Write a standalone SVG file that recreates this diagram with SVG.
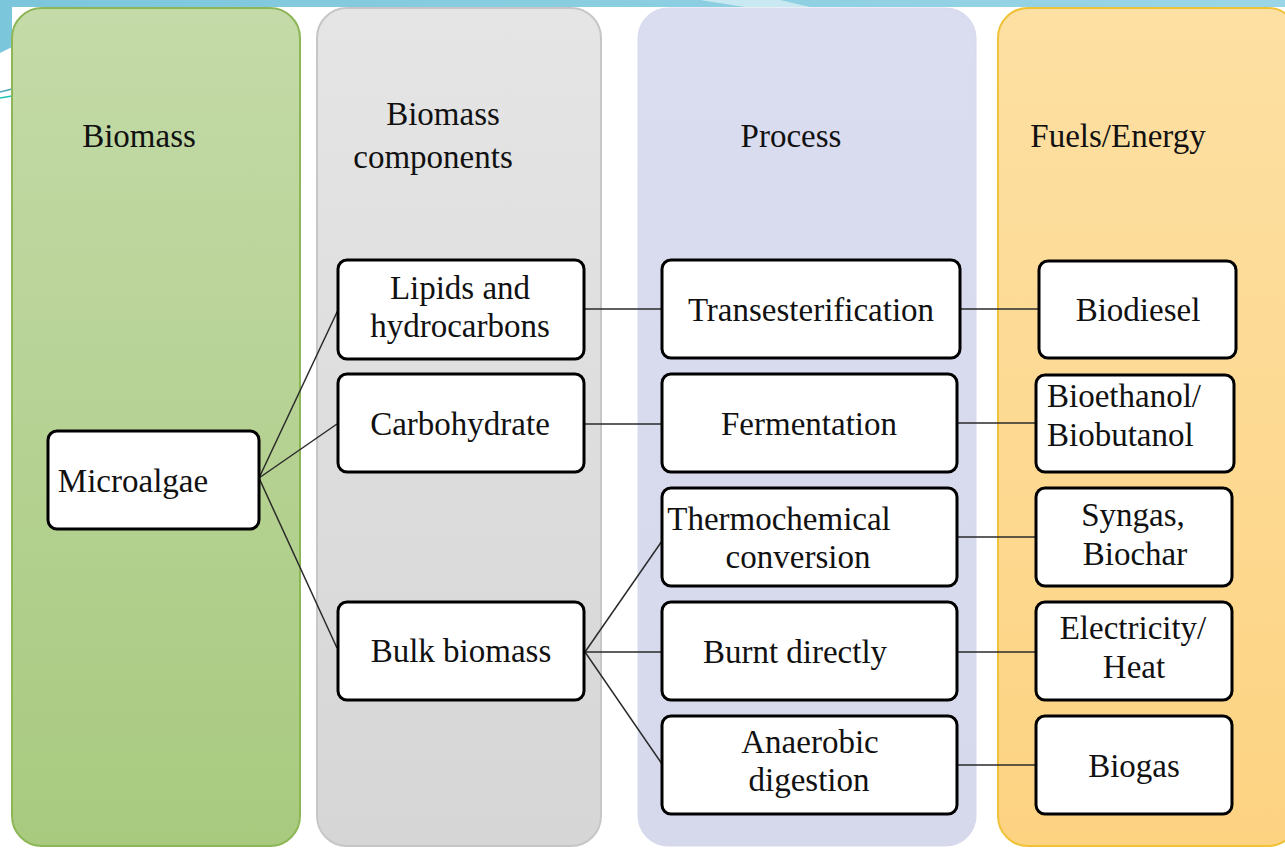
<svg xmlns="http://www.w3.org/2000/svg" width="1285" height="848" viewBox="0 0 1285 848">
<defs>
<linearGradient id="gGreen" x1="0" y1="0" x2="0" y2="1"><stop offset="0" stop-color="#c4daa8"/><stop offset="1" stop-color="#a8ca7f"/></linearGradient>
<linearGradient id="gGray" x1="0" y1="0" x2="0" y2="1"><stop offset="0" stop-color="#e5e5e5"/><stop offset="1" stop-color="#d6d6d6"/></linearGradient>
<linearGradient id="gLav" x1="0" y1="0" x2="0" y2="1"><stop offset="0" stop-color="#dadcef"/><stop offset="1" stop-color="#d6d9ec"/></linearGradient>
<linearGradient id="gYel" x1="0" y1="0" x2="0" y2="1"><stop offset="0" stop-color="#fde0a3"/><stop offset="1" stop-color="#fdd382"/></linearGradient>
<linearGradient id="gBand" x1="0" y1="0" x2="1" y2="0"><stop offset="0" stop-color="#7cc6dc"/><stop offset="1" stop-color="#9ad6e6"/></linearGradient>
</defs>
<style>
text{font-family:"Liberation Serif","Times New Roman",serif;font-size:33px;fill:#111;text-anchor:middle}
.node{fill:#fff;stroke:#000;stroke-width:3}
.conn line{stroke:#2a2a2a;stroke-width:1.5}
</style>
<rect x="0" y="0" width="1285" height="848" fill="#fff"/>
<polygon points="0,0 1285,0 1285,7 12,7 12,47 0,53" fill="url(#gBand)"/>
<polygon points="700,0 780,0 810,7 745,7" fill="#c9e9f2"/>
<line x1="0" y1="92" x2="12" y2="89" stroke="#4aa6b8" stroke-width="1.5"/>
<line x1="0" y1="98" x2="12" y2="96" stroke="#1fc4b8" stroke-width="1.5"/>

<g id="col-biomass">
<rect x="12" y="8" width="288" height="838" rx="30" fill="url(#gGreen)" stroke="#8db656" stroke-width="2"/>
<text x="139" y="147">Biomass</text>
</g>
<g id="col-components">
<rect x="317" y="8" width="284" height="838" rx="30" fill="url(#gGray)" stroke="#c6c6c6" stroke-width="2"/>
<text x="443" y="125">Biomass</text>
<text x="433" y="168">components</text>
</g>
<g id="col-process">
<rect x="638" y="8" width="338" height="838" rx="30" fill="url(#gLav)" stroke="#d6d9ec" stroke-width="1"/>
<text x="791" y="147">Process</text>
</g>
<g id="col-fuels">
<rect x="998" y="8" width="300" height="838" rx="30" fill="url(#gYel)" stroke="#f0c238" stroke-width="2"/>
<text x="1118" y="147">Fuels/Energy</text>
</g>

<g id="connectors" class="conn">
<line x1="259" y1="478" x2="338" y2="310"/>
<line x1="259" y1="478" x2="337" y2="424"/>
<line x1="259" y1="478" x2="337" y2="648"/>
<line x1="584" y1="309" x2="661" y2="309"/>
<line x1="584" y1="424" x2="661" y2="424"/>
<line x1="585" y1="652" x2="662" y2="541"/>
<line x1="585" y1="652" x2="662" y2="652"/>
<line x1="585" y1="652" x2="662" y2="764"/>
<line x1="961" y1="309" x2="1038" y2="309"/>
<line x1="958" y1="423" x2="1035" y2="423"/>
<line x1="958" y1="537" x2="1035" y2="537"/>
<line x1="958" y1="652" x2="1035" y2="652"/>
<line x1="958" y1="765" x2="1035" y2="765"/>
</g>

<g id="n-microalgae"><rect class="node" x="48" y="431" width="211" height="98" rx="9"/><text x="133" y="492">Microalgae</text></g>
<g id="n-lipids"><rect class="node" x="338" y="260" width="246" height="99" rx="9"/><text x="460" y="299">Lipids and</text><text x="460" y="337">hydrocarbons</text></g>
<g id="n-carbohydrate"><rect class="node" x="338" y="374" width="246" height="98" rx="9"/><text x="460" y="435">Carbohydrate</text></g>
<g id="n-bulk"><rect class="node" x="338" y="602" width="246" height="98" rx="9"/><text x="461" y="662">Bulk biomass</text></g>
<g id="n-trans"><rect class="node" x="662" y="260" width="298" height="98" rx="9"/><text x="811" y="321">Transesterification</text></g>
<g id="n-ferm"><rect class="node" x="662" y="374" width="295" height="98" rx="9"/><text x="809" y="435">Fermentation</text></g>
<g id="n-thermo"><rect class="node" x="662" y="488" width="295" height="98" rx="9"/><text x="779" y="530">Thermochemical</text><text x="798" y="568">conversion</text></g>
<g id="n-burnt"><rect class="node" x="662" y="602" width="295" height="98" rx="9"/><text x="795" y="663">Burnt directly</text></g>
<g id="n-anaerobic"><rect class="node" x="662" y="716" width="295" height="98" rx="9"/><text x="810" y="753">Anaerobic</text><text x="809" y="791">digestion</text></g>
<g id="n-biodiesel"><rect class="node" x="1039" y="261" width="197" height="97" rx="9"/><text x="1138" y="321">Biodiesel</text></g>
<g id="n-bioethanol"><rect class="node" x="1036" y="375" width="198" height="97" rx="9"/><text x="1047" y="407" style="text-anchor:start">Bioethanol/</text><text x="1047" y="446" style="text-anchor:start">Biobutanol</text></g>
<g id="n-syngas"><rect class="node" x="1036" y="488" width="196" height="98" rx="9"/><text x="1133" y="526">Syngas,</text><text x="1135" y="565">Biochar</text></g>
<g id="n-electricity"><rect class="node" x="1036" y="602" width="196" height="98" rx="9"/><text x="1133" y="639">Electricity/</text><text x="1134" y="678">Heat</text></g>
<g id="n-biogas"><rect class="node" x="1036" y="716" width="196" height="98" rx="9"/><text x="1134" y="777">Biogas</text></g>
</svg>
